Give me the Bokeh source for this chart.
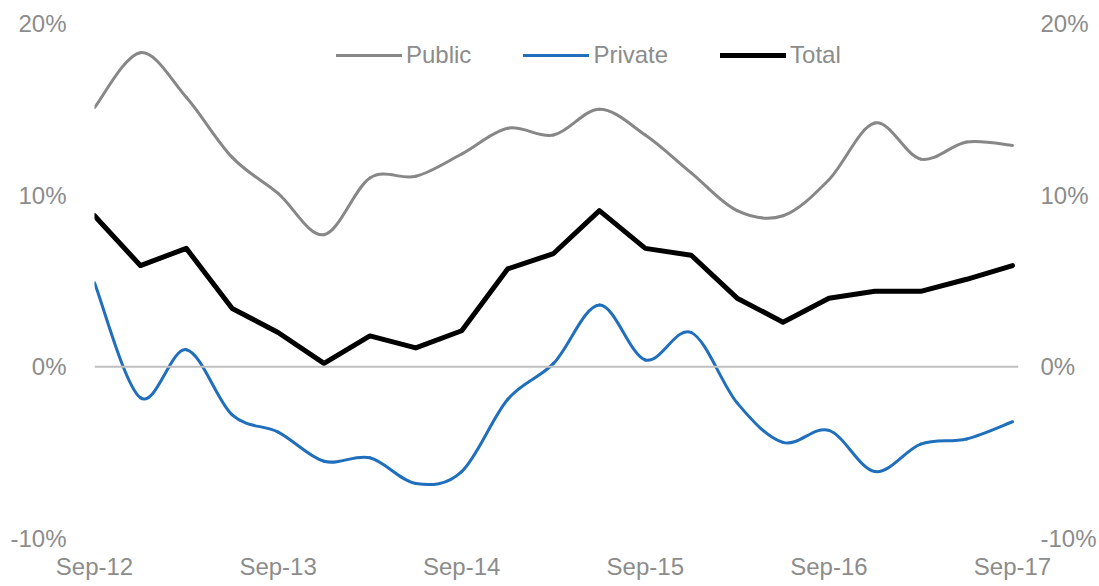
from bokeh.plotting import figure
from bokeh.models import (ColumnDataSource, FixedTicker, LinearAxis, Span, Range1d,
                          Legend, LegendItem)
from bokeh.embed import file_html
from bokeh.resources import INLINE

# ---------------- data ----------------
quarters = ["Sep-12", "Dec-12", "Mar-13", "Jun-13", "Sep-13", "Dec-13", "Mar-14",
            "Jun-14", "Sep-14", "Dec-14", "Mar-15", "Jun-15", "Sep-15", "Dec-15",
            "Mar-16", "Jun-16", "Sep-16", "Dec-16", "Mar-17", "Jun-17", "Sep-17"]
public = [15.1, 18.3, 15.7, 12.2, 10.1, 7.7, 11.0, 11.1, 12.4, 13.9, 13.5,
          15.0, 13.5, 11.3, 9.1, 8.8, 10.9, 14.2, 12.1, 13.1, 12.9]
private = [4.9, -1.8, 1.0, -2.8, -3.8, -5.5, -5.3, -6.8, -6.1, -1.9, 0.2,
           3.6, 0.4, 2.0, -2.1, -4.4, -3.7, -6.1, -4.5, -4.2, -3.2]
total = [8.8, 5.9, 6.9, 3.4, 2.0, 0.2, 1.8, 1.1, 2.1, 5.7, 6.6,
         9.1, 6.9, 6.5, 4.0, 2.6, 4.0, 4.4, 4.4, 5.1, 5.9]
x_tick_labels = ["Sep-12", "Sep-13", "Sep-14", "Sep-15", "Sep-16", "Sep-17"]
y_ticks = [-10, 0, 10, 20]
y_tick_labels = ["-10%", "0%", "10%", "20%"]

xs = list(range(len(quarters)))
x_ticks = [quarters.index(q) for q in x_tick_labels]

FONT = "Liberation Sans"
TXT = "#8c8c8c"
C_PUBLIC = "#878787"
C_PRIVATE = "#1f6fbd"
C_TOTAL = "#000000"


def smooth_segments(x, y):
    """Cubic Bezier segments (Excel-like smoothing) through the given points."""
    n = len(x)
    seg = dict(x0=[], y0=[], x1=[], y1=[], cx0=[], cy0=[], cx1=[], cy1=[])
    for i in range(n - 1):
        i0 = max(i - 1, 0)
        i3 = min(i + 2, n - 1)
        seg["x0"].append(x[i]); seg["y0"].append(y[i])
        seg["x1"].append(x[i + 1]); seg["y1"].append(y[i + 1])
        seg["cx0"].append(x[i] + (x[i + 1] - x[i0]) / 6.0)
        seg["cy0"].append(y[i] + (y[i + 1] - y[i0]) / 6.0)
        seg["cx1"].append(x[i + 1] - (x[i3] - x[i]) / 6.0)
        seg["cy1"].append(y[i + 1] - (y[i3] - y[i]) / 6.0)
    return ColumnDataSource(seg)


p = figure(width=1099, height=586, output_backend="svg", toolbar_location=None,
           x_range=Range1d(0, 20.13), y_range=Range1d(-10, 20),
           min_border_left=94, min_border_right=81, min_border_top=23,
           min_border_bottom=48)
p.outline_line_color = None
p.xgrid.visible = False
p.ygrid.visible = False
p.background_fill_color = "white"
p.border_fill_color = "white"

# zero line
p.add_layout(Span(location=0, dimension="width", line_color="#bfbfbf", line_width=2))

# series
r_pub = p.bezier(x0="x0", y0="y0", x1="x1", y1="y1", cx0="cx0", cy0="cy0", cx1="cx1",
                 cy1="cy1", source=smooth_segments(xs, public), line_color=C_PUBLIC,
                 line_width=3, line_cap="round")
r_pri = p.bezier(x0="x0", y0="y0", x1="x1", y1="y1", cx0="cx0", cy0="cy0", cx1="cx1",
                 cy1="cy1", source=smooth_segments(xs, private), line_color=C_PRIVATE,
                 line_width=3, line_cap="round")
r_tot = p.line(xs, total, line_color=C_TOTAL, line_width=5, line_join="round",
               line_cap="round")

legend = Legend(items=[LegendItem(label="Public", renderers=[r_pub]),
                       LegendItem(label="Private", renderers=[r_pri]),
                       LegendItem(label="Total", renderers=[r_tot])],
                location=(242, 469), orientation="horizontal",
                background_fill_alpha=0, border_line_color=None,
                padding=0, margin=0, spacing=52, glyph_width=66, glyph_height=24,
                label_standoff=4, label_text_font=FONT, label_text_font_size="24px",
                label_text_color=TXT, label_height=24)
p.add_layout(legend)

# axes
p.xaxis.ticker = FixedTicker(ticks=x_ticks)
p.xaxis.major_label_overrides = {t: l for t, l in zip(x_ticks, x_tick_labels)}
p.yaxis.ticker = FixedTicker(ticks=y_ticks)
p.yaxis.major_label_overrides = {t: l for t, l in zip(y_ticks, y_tick_labels)}

right = LinearAxis(ticker=FixedTicker(ticks=y_ticks),
                   major_label_overrides={t: l for t, l in zip(y_ticks, y_tick_labels)})
p.add_layout(right, "right")

for ax in [p.xaxis[0], p.yaxis[0], right]:
    ax.axis_line_color = None
    ax.major_tick_line_color = None
    ax.minor_tick_line_color = None
    ax.major_label_text_font = FONT
    ax.major_label_text_font_size = "24px"
    ax.major_label_text_color = TXT
p.xaxis[0].major_label_standoff = 8
p.yaxis[0].major_label_standoff = 22
right.major_label_standoff = 16

open("out.html", "w").write(file_html(p, INLINE))
